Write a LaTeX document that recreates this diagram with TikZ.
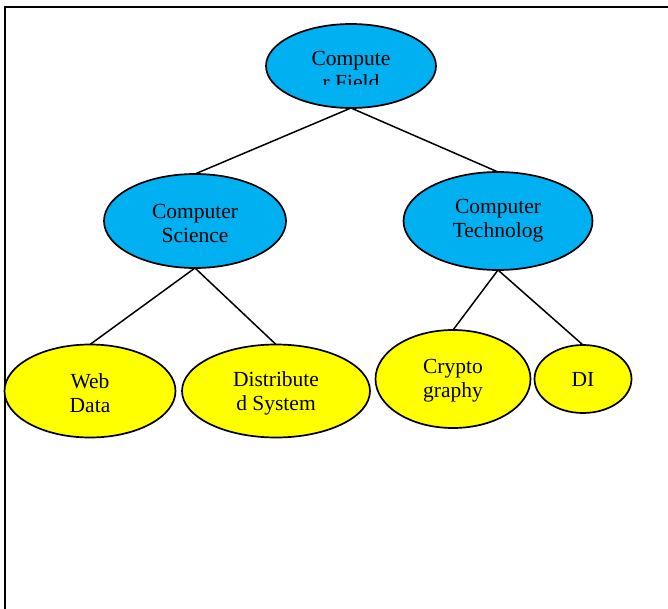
\documentclass[tikz,border=0pt]{standalone}
\usepackage{fontspec}
\setmainfont{Liberation Serif}
\usetikzlibrary{shapes.geometric}
\definecolor{skyb}{RGB}{0,176,240}
\definecolor{yel}{RGB}{255,255,0}
\tikzset{
  oval/.style={ellipse, draw=black, line width=1.7pt, inner sep=0pt, outer sep=0pt},
  blueoval/.style={oval, fill=skyb},
  yeloval/.style={oval, fill=yel},
  lbl/.style={align=center, inner sep=0pt, font=\fontsize{21.5}{24}\selectfont},
  link/.style={line width=1.5pt}
}
\begin{document}
\begin{tikzpicture}[x=1pt,y=-1pt]
\useasboundingbox (0,0) rectangle (668,609);
\draw[line width=2pt] (5,609) -- (5,7) -- (668,7);
% nodes
\node[blueoval, minimum width=170, minimum height=84] (cf) at (351,66) {};
\node[blueoval, minimum width=182, minimum height=94] (cs) at (195,221) {};
\node[blueoval, minimum width=189, minimum height=98] (ct) at (498,221) {};
\node[yeloval, minimum width=171, minimum height=93] (wd) at (90,391) {};
\node[yeloval, minimum width=188, minimum height=93] (ds) at (276,391) {};
\node[yeloval, minimum width=155, minimum height=98] (cr) at (453,379) {};
\node[yeloval, minimum width=97, minimum height=68] (di) at (583,379) {};
% connectors
\draw[link] (cf.south) -- (cs.north);
\draw[link] (cf.south) -- (ct.north);
\draw[link] (cs.south) -- (wd.north);
\draw[link] (cs.south) -- (ds.north);
\draw[link] (ct.south) -- (cr.north);
\draw[link] (ct.south) -- (di.north);
% labels
\begin{scope}
\clip (280,40) rectangle (420,85);
\node[lbl, anchor=north] (cft) at (351,51) {Compute\\r Field};
\end{scope}
\node[lbl] (cst) at (195,223) {Computer\\Science};
\node[lbl] (ctt) at (498,221) {Computer\\Technolog};
\node[lbl] (wdt) at (90,393) {Web\\Data};
\node[lbl] (dst) at (276,393) {Distribute\\d System};
\node[lbl] (crt) at (453,381) {Crypto\\graphy};
\node[lbl] (dit) at (583,379) {DI};
\end{tikzpicture}
\end{document}
